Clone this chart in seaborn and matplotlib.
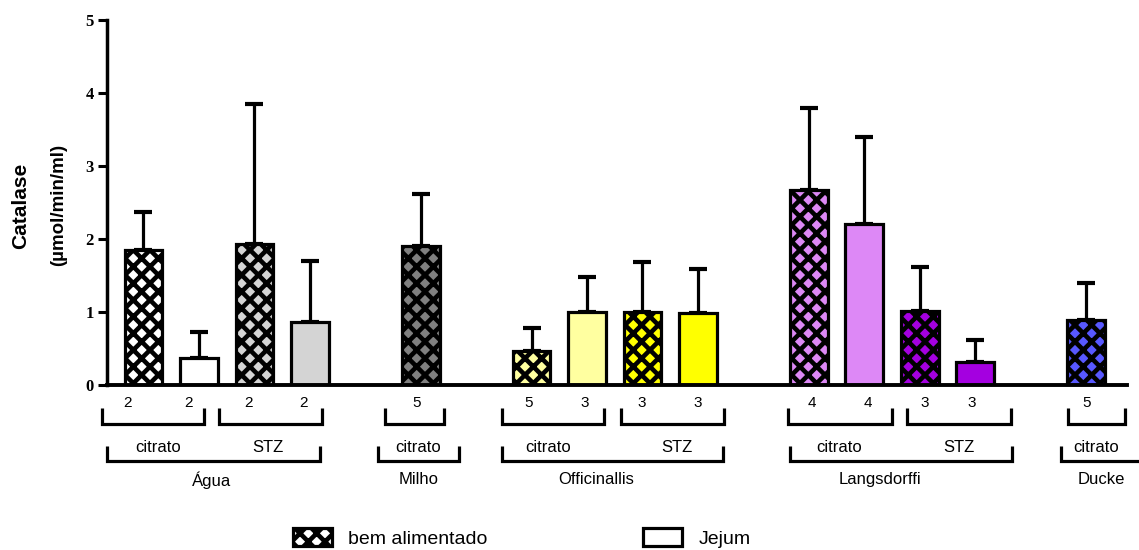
import matplotlib
matplotlib.use("Agg")
import matplotlib.pyplot as plt
import matplotlib.transforms as mtransforms
from matplotlib.patches import Patch
import numpy as np
import pandas as pd
import seaborn as sns

# ---------------- data ----------------
bar_slots = [0, 1, 2, 3, 5, 7, 8, 9, 10, 12, 13, 14, 15, 17]
means = [1.85, 0.37, 1.93, 0.86, 1.90, 0.46, 1.00, 1.00, 0.98, 2.67, 2.20, 1.02, 0.31, 0.89]
sds = [0.52, 0.36, 1.92, 0.84, 0.72, 0.32, 0.48, 0.68, 0.61, 1.12, 1.20, 0.60, 0.30, 0.51]
n_values = ["2", "2", "2", "2", "5", "5", "3", "3", "3", "4", "4", "3", "3", "5"]
feeding = ["bem alimentado", "Jejum", "bem alimentado", "Jejum", "bem alimentado",
           "bem alimentado", "Jejum", "bem alimentado", "Jejum",
           "bem alimentado", "Jejum", "bem alimentado", "Jejum", "bem alimentado"]
fill_colors = ["#ffffff", "#ffffff", "#d4d4d4", "#d4d4d4", "#808080",
               "#ffffa0", "#ffffa0", "#ffff00", "#ffff00",
               "#dd88f6", "#dd88f6", "#a400e0", "#a400e0", "#5858ff"]
legend_labels = ["bem alimentado", "Jejum"]
y_label_1 = "Catalase"
y_label_2 = "(µmol/min/ml)"
y_ticks = [0, 1, 2, 3, 4, 5]

# ---------------- layout (annotation positions, x in slot units) ----------------
n_label_shift = [-0.28, -0.18, -0.10, -0.12, -0.07, -0.05, -0.04, -0.01, 0.0, 0.05, 0.07, 0.10, -0.06, 0.01]
l1_brackets = [(-0.754, 1.097), (1.367, 3.225), (4.356, 5.420), (6.472, 8.306),
               (8.607, 10.471), (11.631, 13.496), (13.777, 15.642), (16.681, 17.704)]
l2_brackets = [(-0.664, 3.184), (4.230, 5.691), (6.472, 10.458), (11.661, 15.660), (16.544, 18.1)]
l2_texts = [("citrato", 0.26), ("STZ", 2.246), ("citrato", 4.95), ("citrato", 7.296),
            ("STZ", 9.618), ("citrato", 12.545), ("STZ", 14.71), ("citrato", 17.19)]
group_texts = [("Água", 1.23), ("Milho", 4.97), ("Officinallis", 8.16),
               ("Langsdorffi", 13.29), ("Ducke", 17.27)]

df = pd.DataFrame({"slot": bar_slots, "mean": means, "sd": sds, "feeding": feeding})

sns.set_style("ticks")
plt.rcParams["font.family"] = ["Liberation Sans", "DejaVu Sans"]
plt.rcParams["hatch.linewidth"] = 3.3
plt.rcParams["hatch.color"] = "black"
for k in ["text.color", "axes.labelcolor", "xtick.color", "ytick.color", "axes.edgecolor"]:
    plt.rcParams[k] = "black"

fig = plt.figure(figsize=(11.39, 5.5), dpi=100)
ax = fig.add_axes([107 / 1139, 0.30, (1127 - 107) / 1139, 0.6636])

sns.barplot(data=df, x="slot", y="mean", native_scale=True, width=0.68,
            errorbar=None, color="white", ax=ax, zorder=2)

# style bars
for p in ax.patches:
    cx = p.get_x() + p.get_width() / 2
    idx = int(np.argmin([abs(cx - s) for s in bar_slots]))
    p.set_facecolor(fill_colors[idx])
    p.set_edgecolor("black")
    p.set_linewidth(2.3)
    p.set_alpha(None)
    if feeding[idx] == "bem alimentado":
        p.set_hatch("xx")

ax.errorbar(df["slot"], df["mean"], yerr=[np.zeros(len(sds)), df["sd"]], fmt="none",
            ecolor="black", elinewidth=2.3, capsize=6.5, capthick=3, zorder=1)

ax.set_xlim(-0.658, 17.74)
ax.set_ylim(0, 5)
ax.set_yticks(y_ticks)
ax.set_yticklabels([str(t) for t in y_ticks], fontfamily="Liberation Serif",
                   fontweight="bold", fontsize=12)
ax.set_xticks([])
ax.set_xlabel("")
ax.set_ylabel("")
for side in ["top", "right"]:
    ax.spines[side].set_visible(False)
ax.spines["left"].set_linewidth(2.5)
ax.spines["bottom"].set_linewidth(2.8)
ax.tick_params(axis="y", length=6.5, width=2.2, pad=3, color="black")

# y label lines
fig.text(21 / 1139, 1 - 206 / 550, y_label_1, rotation=90, ha="center", va="center",
         fontsize=15, fontweight="bold")
fig.text(59 / 1139, 1 - 205 / 550, y_label_2, rotation=90, ha="center", va="center",
         fontsize=13.5, fontweight="bold")

# brackets / annotations beneath axis
tr = mtransforms.blended_transform_factory(ax.transData, ax.transAxes)
blw = 2.3

def bracket(x0, x1, ytop, ybot):
    ax.plot([x0, x0, x1, x1], [ytop, ybot, ybot, ytop], transform=tr, color="black",
            lw=blw, clip_on=False, solid_joinstyle="miter", solid_capstyle="butt")

for i, s in enumerate(bar_slots):
    ax.text(s + n_label_shift[i], -0.049, n_values[i], transform=tr, ha="center",
            va="center", fontsize=11, clip_on=False)
for x0, x1 in l1_brackets:
    bracket(x0, x1, -0.063, -0.107)
for x0, x1 in l2_brackets:
    bracket(x0, x1, -0.167, -0.208)
for t, x in l2_texts:
    ax.text(x, -0.172, t, transform=tr, ha="center", va="center", fontsize=12, clip_on=False)
for t, x in group_texts:
    ax.text(x, -0.260, t, transform=tr, ha="center", va="center", fontsize=12, clip_on=False)

handles = [Patch(facecolor="white", edgecolor="black", hatch="xx", linewidth=2.3),
           Patch(facecolor="white", edgecolor="black", linewidth=2.3)]
fig.legend(handles, legend_labels, loc="center left", bbox_to_anchor=(293 / 1139, 0.022),
           ncol=2, frameon=False, fontsize=14, handlelength=2.0, handleheight=1.0,
           handletextpad=0.85, columnspacing=8.0, borderpad=0, borderaxespad=0)

fig.savefig("out.png", dpi=100)
